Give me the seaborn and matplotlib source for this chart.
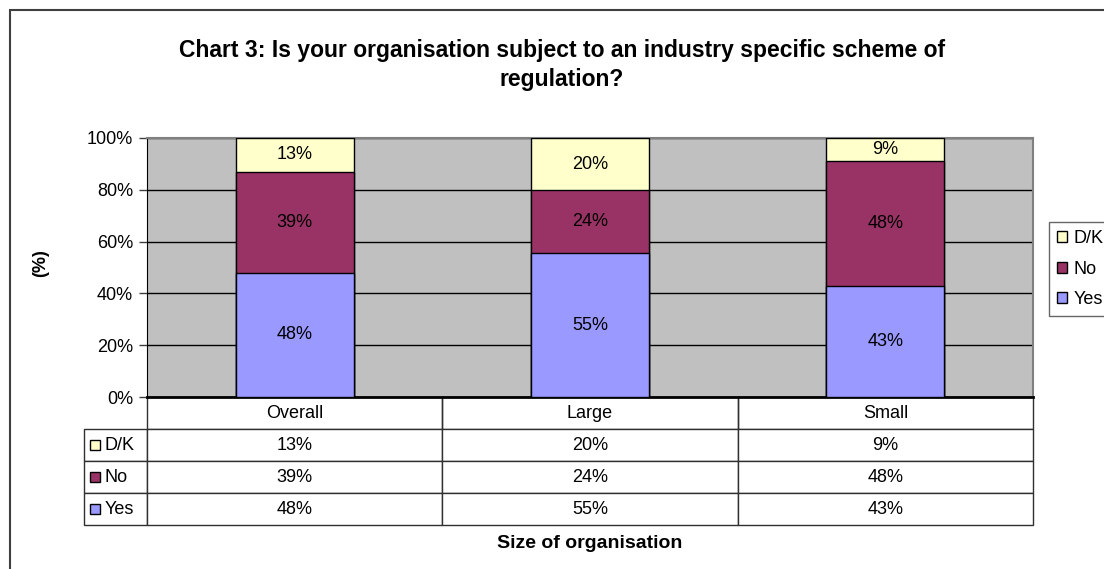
import numpy as np
import matplotlib
matplotlib.use("Agg")
import matplotlib.pyplot as plt
import seaborn as sns
from matplotlib.table import Table
from matplotlib.patches import Patch, Rectangle

categories = ["Overall", "Large", "Small"]
series = ["D/K", "No", "Yes"]
yes = [48, 55, 43]
no = [39, 24, 48]
dk = [13, 20, 9]
colors = {"Yes": "#9999FF", "No": "#993366", "D/K": "#FFFFCC"}

sns.set_style("white")
plt.rcParams["font.family"] = ["Liberation Sans", "DejaVu Sans"]
plt.rcParams["text.color"] = "black"
plt.rcParams["ytick.color"] = "black"
plt.rcParams["ytick.labelcolor"] = "black"

W, H = 1104, 569
fig = plt.figure(figsize=(W / 100, H / 100), dpi=100)
ax = fig.add_axes([147 / W, 1 - 397 / H, 886 / W, 259 / H])

# 100% stacked, so normalise each column
yes_a, no_a, dk_a = (np.array(v, float) for v in (yes, no, dk))
total = yes_a + no_a + dk_a
yes_n = yes_a / total * 100
no_n = no_a / total * 100
dk_n = dk_a / total * 100

c_top = yes_n + no_n + dk_n
c_mid = yes_n + no_n
for vals, name in [(c_top, "D/K"), (c_mid, "No"), (yes_n, "Yes")]:
    sns.barplot(x=categories, y=vals, color=colors[name], saturation=1, width=0.4,
                edgecolor="black", linewidth=1, errorbar=None, ax=ax, zorder=3)

# segment labels
for i in range(3):
    for lo, h, v in [(0, yes_n[i], yes[i]), (yes_n[i], no_n[i], no[i]),
                     (c_mid[i], dk_n[i], dk[i])]:
        ax.text(i, lo + h / 2, f"{v}%", ha="center", va="center", fontsize=13,
                color="black", zorder=4)

ax.set_facecolor("#C0C0C0")
ax.set_ylim(0, 100)
ax.set_xlim(-0.5, 2.5)
ax.set_yticks(range(0, 101, 20))
ax.set_yticklabels([f"{t}%" for t in range(0, 101, 20)], fontsize=13, color="black")
ax.set_xticks([])
ax.set_xlabel("")
ax.yaxis.grid(True, color="black", linewidth=1)
ax.set_axisbelow(True)
ax.tick_params(axis="y", left=True, length=6, width=1, color="#404040", pad=4)
for s in ["top", "right"]:
    ax.spines[s].set_color("#808080")
    ax.spines[s].set_linewidth(1.5)
ax.spines["left"].set_color("black")
ax.spines["bottom"].set_color("black")
ax.spines["bottom"].set_linewidth(2)

# data table under the axis
label_w, col_w = 63, 886 / 3
row_h = 32
tbl = Table(ax, bbox=[-label_w / 886, -4 * row_h / 259, 1 + label_w / 886, 4 * row_h / 259])
tbl.auto_set_font_size(False)
rows = [dk, no, yes]
for c, cat in enumerate(categories):
    cell = tbl.add_cell(0, c + 1, col_w, row_h, text=cat, loc="center", edgecolor="#303030")
    cell.visible_edges = "BLR"
tbl.add_cell(0, 0, label_w, row_h, text="", edgecolor="white").visible_edges = "open"
for r, vals in enumerate(rows, start=1):
    tbl.add_cell(r, 0, label_w, row_h, text="", edgecolor="#303030")
    for c, v in enumerate(vals):
        tbl.add_cell(r, c + 1, col_w, row_h, text=f"{v}%", loc="center", edgecolor="#303030")
for cell in tbl.get_celld().values():
    cell.get_text().set_fontsize(13)
    cell.get_text().set_color("black")
    cell.set_linewidth(1)
ax.add_table(tbl)

# row labels with colour keys
for r, name in enumerate(series, start=1):
    yc = -(r + 0.5) * row_h / 259
    ax.add_patch(Rectangle((-57 / 886, yc - 5 / 259), 10 / 886, 10 / 259,
                           transform=ax.transAxes, facecolor=colors[name],
                           edgecolor="black", linewidth=1, clip_on=False))
    ax.text(-42 / 886, yc, name, transform=ax.transAxes, ha="left", va="center",
            fontsize=13, color="black")

# legend on the right
handles = [Patch(facecolor=colors[s], edgecolor="black", label=s) for s in series]
leg = fig.legend(handles=handles, loc="upper left", bbox_to_anchor=(1049 / W, 1 - 222 / H),
                 borderaxespad=0, fancybox=False, frameon=True, edgecolor="#404040",
                 fontsize=13, handlelength=0.55, handleheight=0.55, handletextpad=0.35,
                 labelspacing=0.75, borderpad=0.45)
leg.get_frame().set_linewidth(1)
for t in leg.get_texts():
    t.set_color("black")

fig.text(562 / W, 1 - 65 / H,
         "Chart 3: Is your organisation subject to an industry specific scheme of\nregulation?",
         ha="center", va="center", fontsize=16.5, fontweight="bold", linespacing=1.3,
         color="black")
fig.text(41 / W, 1 - 263 / H, "(%)", rotation=90, ha="center", va="center",
         fontsize=13, fontweight="bold", color="black")
fig.text(590 / W, 1 - 543 / H, "Size of organisation", ha="center", va="center",
         fontsize=14, fontweight="bold", color="black")

# outer chart border
fig.add_artist(Rectangle((10 / W, -0.05), 1.2, 1 - 10 / H + 0.05, transform=fig.transFigure,
                         facecolor="none", edgecolor="#404040", linewidth=1.5))

fig.savefig("out.png", dpi=100)
